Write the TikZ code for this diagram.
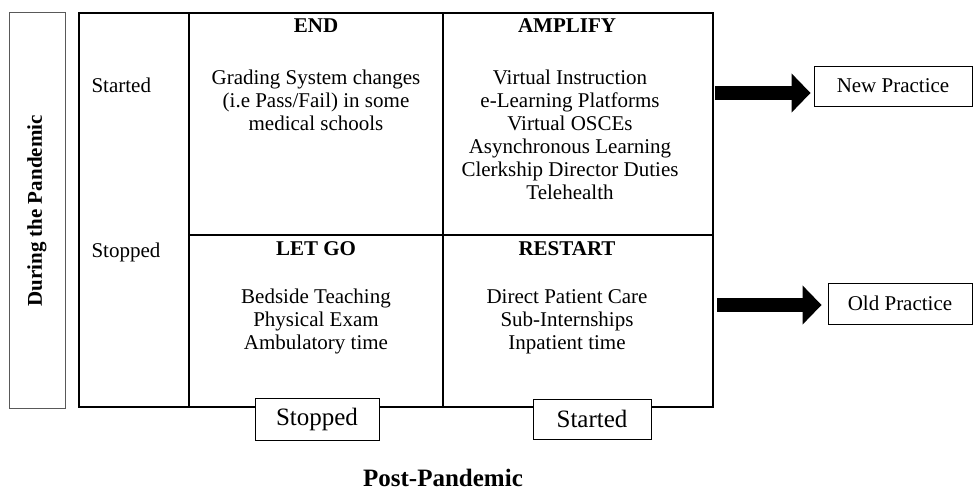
\documentclass[tikz,border=0pt]{standalone}
\usepackage{fontspec}
\setmainfont{Liberation Serif}
\usetikzlibrary{arrows.meta}

\tikzset{
  cell/.style={font=\fontsize{21}{23}\selectfont, align=center},
  head/.style={font=\fontsize{21}{23}\selectfont\bfseries},
  tagbox/.style={draw, line width=1pt, font=\fontsize{25}{28}\selectfont, fill=white,
    minimum height=42pt, inner sep=0pt},
  practice/.style={draw, line width=0.9pt, font=\fontsize{21}{23}\selectfont,
    minimum height=40pt, inner sep=0pt},
  blockarrow/.style={line width=14pt, -{Triangle[length=19pt, width=38pt]}}
}

\begin{document}
\begin{tikzpicture}[x=1pt, y=-1pt]
      \useasboundingbox (0,0) rectangle (973,493);

      % side label
      \draw[gray!70!black, line width=1pt] (9,12) rectangle (65,408);
      \node[rotate=90, font=\fontsize{21}{24}\selectfont\bfseries] (during) at (37,211) {During the Pandemic};

      % grid
      \draw[line width=1.7pt] (79,13) rectangle (713,407);
      \draw[line width=1.7pt] (189,13) -- (189,407);
      \draw[line width=1.7pt] (443,13) -- (443,407);
      \draw[line width=1.7pt] (189,235) -- (713,235);

      \node[cell, anchor=west] (started) at (88,85) {Started};
      \node[cell, anchor=west] (stopped) at (88,252) {Stopped};

      \node[head] (end) at (316,26) {END};
      \node[head] (amplify) at (567,26) {AMPLIFY};
      \node[head] (letgo) at (316,249) {LET GO};
      \node[head] (restart) at (567,249) {RESTART};

      \node[cell] (grading) at (316,100) {Grading System changes\\(i.e Pass/Fail) in some\\medical schools};
      \node[cell] (virtual) at (570,134.5) {Virtual Instruction\\e-Learning Platforms\\Virtual OSCEs\\Asynchronous Learning\\Clerkship Director Duties\\Telehealth};
      \node[cell] (bedside) at (316,321.5) {Bedside Teaching\\Physical Exam\\Ambulatory time};
      \node[cell] (direct) at (567,321.5) {Direct Patient Care\\Sub-Internships\\Inpatient time};

      % post pandemic axis
      \node[tagbox, minimum width=124pt] (poststop) at (317,419) {Stopped};
      \node[tagbox, minimum width=118pt, minimum height=40pt] (poststart) at (592,419) {Started};
      \node[font=\fontsize{25}{28}\selectfont\bfseries] (post) at (443,478) {Post-Pandemic};

      % outcomes
      \node[practice, minimum width=158pt] (newp) at (893,86) {New Practice};
      \node[practice, minimum width=144pt, minimum height=41pt] (oldp) at (900,303.5) {Old Practice};

      \coordinate (a1) at (715,93);
      \coordinate (a2) at (717,305);
      \draw[blockarrow, shorten >=3pt] (a1) -- (newp.west |- a1);
      \draw[blockarrow, shorten >=6pt] (a2) -- (oldp.west |- a2);
    \end{tikzpicture}
\end{document}
